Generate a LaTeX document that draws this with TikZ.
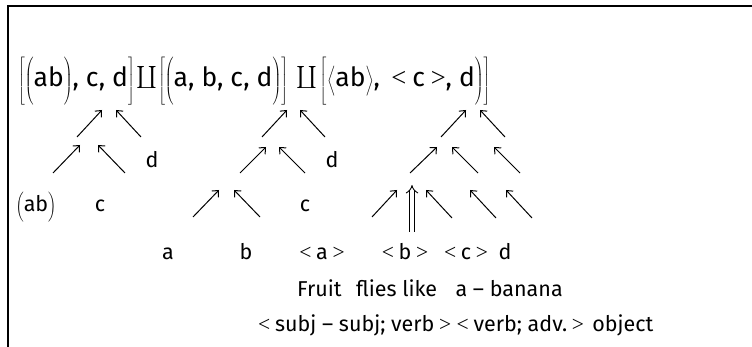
\documentclass[tikz,border=0pt]{standalone}
\usepackage{graphicx}
\usepackage{fontspec}
\setmainfont{Fira Sans}
\newfontfamily\serif{Liberation Serif}
\usetikzlibrary{arrows.meta}
\newcommand\bst{\rule[-12pt]{0pt}{42pt}}
\newcommand\LT{{\serif <}\hspace{0.22em}}
\newcommand\GT{\hspace{0.22em}{\serif >}}
\newcommand\cop{\raisebox{-4pt}{\scalebox{2.2}{$\coprod$}}}
\begin{document}
\begin{tikzpicture}[x=1pt,y=-1pt,
  txt/.style={anchor=base,inner sep=0pt,font=\fontsize{21.5}{25}\selectfont},
  big/.style={anchor=base west,inner sep=0pt,font=\fontsize{26.5}{31}\selectfont},
  arr/.style={line width=1pt,-{Straight Barb[length=5pt,width=9pt]}},
  darr/.style={double,double distance=3.5pt,line width=0.9pt,-{Implies}}]
\useasboundingbox (0,0) rectangle (752,347);
\draw[line width=2pt] (8,347) -- (8,6) -- (752,6);
% formula
\node[big] (f1) at (18,87) {$\left[{\left(\mbox{ab}\bst\right)}\mbox{, c, d}\right]$};
\node[big] (k1) at ([xshift=1pt]f1.base east) {\cop};
\node[big] (f2) at ([xshift=1pt]k1.base east) {$\left[{\left(\mbox{a, b, c, d}\bst\right)}\right]$};
\node[big] (k2) at ([xshift=8pt]f2.base east) {\cop};
\node[big] (f3) at ([xshift=2pt]k2.base east) {$\left[{\left.{\left\langle\mbox{ab}\bst\right\rangle}\mbox{,\, \LT c\GT, d}\right)}\right]$};
% tree 1
\draw[arr] (77,137) -- (102,110);
\draw[arr] (141,137) -- (116,110);
\draw[arr] (53,173) -- (80,145);
\draw[arr] (125,173) -- (98,145);
\node[txt] (d1) at (152,168) {d};
\node[txt] (ab) at (36,212) {$\left(\mbox{ab}\rule[-7pt]{0pt}{28pt}\right)$};
\node[txt] (c1) at (100,212) {c};
% tree 2
\draw[arr] (262,137) -- (287,110);
\draw[arr] (325,137) -- (300,110);
\draw[arr] (240,173) -- (266,147);
\draw[arr] (305,173) -- (279,147);
\node[txt] (d2) at (332,168) {d};
\draw[arr] (193,217) -- (219,190);
\draw[arr] (260,217) -- (234,190);
\node[txt] (c2) at (305,212) {c};
% tree 3
\draw[arr] (441,137) -- (466,110);
\draw[arr] (505,137) -- (480,110);
\draw[arr] (410,173) -- (437,147);
\draw[arr] (478,173) -- (452,147);
\draw[arr] (520,173) -- (494,147);
\draw[arr] (372,217) -- (397,190);
\draw[darr] (412,232) -- (412,185);
\draw[arr] (452,218) -- (426,190);
\draw[arr] (496,218) -- (470,190);
\draw[arr] (532,218) -- (506,190);
% row D
\node[txt] (a) at (168,260) {a};
\node[txt] (b) at (246,260) {b};
\node[txt] (sa) at (322,260) {\LT a\GT};
\node[txt] (sb) at (405,260) {\LT b\GT};
\node[txt] (sc) at (466,260) {\LT c\GT};
\node[txt] (sd) at (505,260) {d};
% row E
\node[txt,anchor=base west] (w1) at (297,296) {Fruit};
\node[txt,anchor=base west] (w2) at ([xshift=14pt]w1.base east) {flies like};
\node[txt,anchor=base west] (w3) at ([xshift=18pt]w2.base east) {a \textendash{} banana};
% row F
\node[txt,anchor=base west] (g1) at (258,331) {\LT subj \textendash{} subj; verb\GT};
\node[txt,anchor=base west] (g2) at ([xshift=5pt]g1.base east) {\LT verb; adv.\GT};
\node[txt,anchor=base west] (g3) at ([xshift=8pt]g2.base east) {object};
\end{tikzpicture}
\end{document}
